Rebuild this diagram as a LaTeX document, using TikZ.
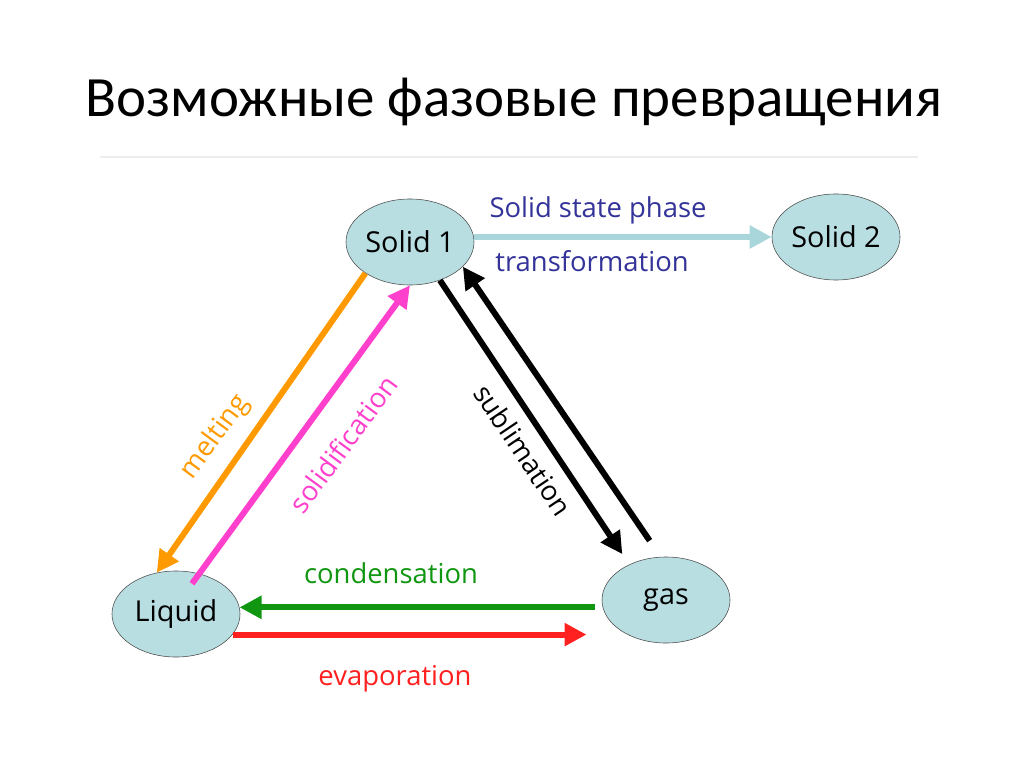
\documentclass[tikz,border=0pt]{standalone}
\usepackage{fontspec}
\setmainfont{Open Sans}
\newfontfamily\titlefont{Carlito}
\usetikzlibrary{shapes.geometric, arrows.meta}

\definecolor{phasefill}{RGB}{184,222,226}
\definecolor{solidarrow}{RGB}{168,214,218}
\definecolor{meltcol}{RGB}{255,153,0}
\definecolor{solidifycol}{RGB}{255,64,204}
\definecolor{condcol}{RGB}{16,150,16}
\definecolor{evapcol}{RGB}{255,32,32}
\definecolor{navytext}{RGB}{51,51,153}

\begin{document}
\begin{tikzpicture}[
    x=0.025cm, y=-0.025cm,
    phase/.style={ellipse, draw=black!70, thin, fill=phasefill, minimum width=3.2cm, minimum height=2.15cm, inner sep=0pt, font=\fontsize{20.5}{22}\selectfont},
    trans/.style={-{Triangle[width=0.55cm, length=0.55cm]}, line width=0.15cm},
    lbl/.style={inner sep=0pt, font=\fontsize{19.5}{21}\selectfont}
  ]

    \useasboundingbox (0,0) rectangle (1024,767);

    \node[font=\titlefont\fontsize{40.5}{42}\selectfont] (title) at (514,102) {Возможные фазовые превращения};
    \draw[black!7, line width=1.5pt] (100,157) -- (918,157);

    \node[phase] (solid1) at (410,242) {Solid 1};
    \node[phase] (solid2) at (836,237) {Solid 2};
    \node[phase] (liquid) at (176,614) {Liquid};
    \node[phase] (gas) at (666,600) {gas};

    \draw[trans, solidarrow] (solid1.east |- solid2.west) -- (solid2.west);
    \draw[trans, meltcol] (solid1.215) -- (liquid.115);
    \draw[trans, solidifycol, shorten <=-0.31cm] (liquid.60) -- (solid1.270);
    \draw[trans, black, shorten >=0.31cm] (solid1.308) -- (gas.136);
    \draw[trans, black, shorten <=0.49cm] (gas.97) -- (solid1.-25);
    \draw[trans, condcol] ([xshift=-0.18cm]gas.west |- liquid.6) -- (liquid.6);
    \draw[trans, evapcol] (liquid.-20) -- ([xshift=-0.38cm]gas.west |- liquid.-20);

    \node[lbl, navytext] (phaseA) at (598,210) {Solid state phase};
    \node[lbl, navytext] (phaseB) at (592,261) {transformation};
    \node[lbl, meltcol, rotate=53.7] (melt) at (215,437) {melting};
    \node[lbl, solidifycol, rotate=53.6] (solidify) at (343,444) {solidification};
    \node[lbl, black, rotate=-56] (sublim) at (523,450) {sublimation};
    \node[lbl, condcol] (cond) at (391,573) {condensation};
    \node[lbl, evapcol] (evap) at (395,679) {evaporation};
  \end{tikzpicture}
\end{document}
